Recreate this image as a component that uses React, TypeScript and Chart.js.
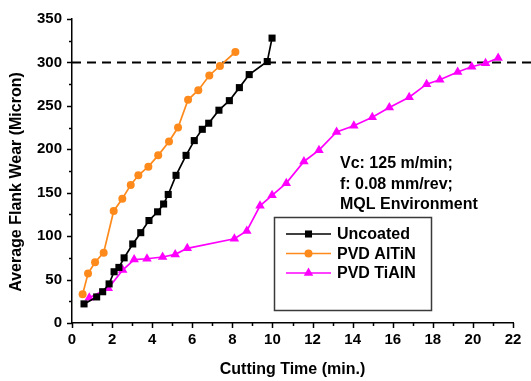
import React, { useEffect, useRef } from 'react';
import { Chart, registerables } from 'chart.js';

Chart.register(...registerables);

const FONT = '"Liberation Sans", Arial, Helvetica, sans-serif';

// ---- data ----
const seriesNames = ['Uncoated', 'PVD AlTiN', 'PVD TiAlN'];

const uncoatedTime = [0.6, 1.23, 1.53, 1.85, 2.1, 2.34, 2.6, 3.03, 3.43, 3.84, 4.27, 4.57, 4.8, 5.19, 5.69, 6.1, 6.5, 6.82, 7.33, 7.85, 8.35, 8.84, 9.74, 9.98];
const uncoatedWear = [22, 30, 36, 45, 59, 64, 75, 91, 104, 118, 128, 137, 148, 170, 193, 210, 223, 230, 245, 256, 271, 286, 301, 328];

const altinTime = [0.53, 0.8, 1.15, 1.58, 2.08, 2.51, 2.93, 3.31, 3.81, 4.3, 4.84, 5.29, 5.79, 6.3, 6.85, 7.38, 8.15];
const altinWear = [33, 57, 70, 81, 129, 143, 159, 170, 180, 193, 209, 225, 257, 268, 285, 296, 312];

const tialnTime = [0.86, 1.81, 2.53, 3.1, 3.74, 4.52, 5.15, 5.75, 8.1, 8.72, 9.38, 9.98, 10.69, 11.57, 12.32, 13.2, 14.06, 14.98, 15.83, 16.82, 17.69, 18.35, 19.24, 19.94, 20.63, 21.26];
const tialnWear = [29, 40, 61, 73, 74, 76, 79, 86, 97, 106, 135, 147, 161, 186, 199, 220, 227, 237, 248, 260, 275, 280, 289, 295, 299, 305];

const xMin = 0;
const xMax = 22;
const xStep = 2;
const yMin = 0;
const yMax = 350;
const yStep = 50;
const thresholdWear = 300;

const xTitle = 'Cutting Time (min.)';
const yTitle = 'Average Flank Wear (Micron)';
const annotationLines = ['Vc: 125 m/min;', 'f: 0.08 mm/rev;', 'MQL Environment'];

const toPoints = (xs: number[], ys: number[]) => xs.map((x, i) => ({ x, y: ys[i] }));

function drawMarker(ctx: CanvasRenderingContext2D, style: string, x: number, y: number, r: number, color: string) {
  ctx.save();
  ctx.fillStyle = color;
  ctx.beginPath();
  if (style === 'rect') {
    const s = Math.SQRT1_2 * r;
    ctx.rect(x - s, y - s, 2 * s, 2 * s);
  } else if (style === 'triangle') {
    let rad = 0;
    ctx.moveTo(x + Math.sin(rad) * r, y - Math.cos(rad) * r);
    rad += (2 * Math.PI) / 3;
    ctx.lineTo(x + Math.sin(rad) * r, y - Math.cos(rad) * r);
    rad += (2 * Math.PI) / 3;
    ctx.lineTo(x + Math.sin(rad) * r, y - Math.cos(rad) * r);
    ctx.closePath();
  } else {
    ctx.arc(x, y, r, 0, Math.PI * 2);
  }
  ctx.fill();
  ctx.restore();
}

const decorPlugin = {
  id: 'decor',
  beforeDatasetsDraw(chart: any) {
    const { ctx, chartArea, scales } = chart;
    const py = scales.y.getPixelForValue(thresholdWear);
    ctx.save();
    ctx.strokeStyle = '#000';
    ctx.lineWidth = 2;
    ctx.setLineDash([9, 6]);
    ctx.beginPath();
    ctx.moveTo(chartArea.left, py);
    ctx.lineTo(chart.width, py);
    ctx.stroke();
    ctx.restore();
  },
  afterDraw(chart: any) {
    const { ctx, chartArea, scales } = chart;
    ctx.save();
    ctx.strokeStyle = '#000';
    ctx.lineWidth = 1.5;
    for (let v = xMin; v <= xMax; v += 1) {
      const px = Math.round(scales.x.getPixelForValue(v)) + 0.5;
      const len = v % xStep === 0 ? 5 : 3;
      ctx.beginPath();
      ctx.moveTo(px, chartArea.bottom);
      ctx.lineTo(px, chartArea.bottom + len);
      ctx.stroke();
    }
    for (let v = yMin; v <= yMax; v += yStep / 2) {
      const py = Math.round(scales.y.getPixelForValue(v)) + 0.5;
      const len = v % yStep === 0 ? 5 : 3;
      ctx.beginPath();
      ctx.moveTo(chartArea.left, py);
      ctx.lineTo(chartArea.left - len, py);
      ctx.stroke();
    }
    ctx.restore();

    // y axis title, drawn slightly below the axis centre as in the reference
    ctx.save();
    ctx.font = `bold 16px ${FONT}`;
    ctx.fillStyle = '#000';
    ctx.textAlign = 'center';
    ctx.textBaseline = 'middle';
    ctx.translate(17, (chartArea.top + chartArea.bottom) / 2 + 11);
    ctx.rotate(-Math.PI / 2);
    ctx.fillText(yTitle, 0, 0);
    ctx.restore();

    // legend box
    ctx.save();
    ctx.strokeStyle = '#3a3a3a';
    ctx.lineWidth = 1.5;
    ctx.strokeRect(274.5, 217.5, 157, 93);
    ctx.font = `bold 16px ${FONT}`;
    ctx.textBaseline = 'middle';
    ctx.textAlign = 'left';
    chart.data.datasets.forEach((ds: any, i: number) => {
      const ry = 234 + i * 19.5;
      ctx.strokeStyle = ds.borderColor;
      ctx.lineWidth = ds.borderWidth;
      ctx.beginPath();
      ctx.moveTo(286, ry);
      ctx.lineTo(331, ry);
      ctx.stroke();
      drawMarker(ctx, ds.pointStyle, 308.5, ry, ds.pointRadius, ds.borderColor);
      ctx.fillStyle = '#000';
      ctx.fillText(ds.label, 337, ry + 1);
    });
    annotationLines.forEach((t, i) => {
      ctx.fillText(t, 340, 164 + i * 20.5);
    });
    ctx.restore();
  },
};

export default function App() {
  const ref = useRef<HTMLCanvasElement>(null);

  useEffect(() => {
    if (!ref.current) return;
    const tickFont = { family: FONT, size: 15, weight: 'bold' as const };
    const titleFont = { family: FONT, size: 16, weight: 'bold' as const };
    const chart = new Chart(ref.current, {
      type: 'line',
      data: {
        datasets: [
          {
            label: seriesNames[0],
            data: toPoints(uncoatedTime, uncoatedWear),
            borderColor: '#000000',
            backgroundColor: '#000000',
            borderWidth: 1.7,
            pointStyle: 'rect',
            pointRadius: 5,
            pointBorderWidth: 0,
            tension: 0,
          },
          {
            label: seriesNames[1],
            data: toPoints(altinTime, altinWear),
            borderColor: '#FF8A1C',
            backgroundColor: '#FF8A1C',
            borderWidth: 1.7,
            pointStyle: 'circle',
            pointRadius: 4,
            pointBorderWidth: 0,
            tension: 0,
          },
          {
            label: seriesNames[2],
            data: toPoints(tialnTime, tialnWear),
            borderColor: '#FF00FF',
            backgroundColor: '#FF00FF',
            borderWidth: 1.7,
            pointStyle: 'triangle',
            pointRadius: 5.5,
            pointBorderWidth: 0,
            tension: 0,
          },
        ],
      },
      options: {
        responsive: false,
        animation: false,
        devicePixelRatio: 1,
        layout: { padding: { left: 0, top: 17, right: 18, bottom: 0 } },
        plugins: {
          legend: { display: false },
          tooltip: { enabled: false },
        },
        scales: {
          x: {
            type: 'linear',
            min: xMin,
            max: xMax,
            afterFit: (s: any) => { s.height = 58; },
            ticks: { stepSize: xStep, autoSkip: false, color: '#000', font: tickFont, padding: 8, maxRotation: 0 },
            grid: { display: false, drawTicks: false },
            border: { display: true, color: '#000', width: 1.5 },
            title: { display: true, text: xTitle, color: '#000', font: titleFont, padding: { top: 0, bottom: 2 } },
          },
          y: {
            type: 'linear',
            min: yMin,
            max: yMax,
            afterFit: (s: any) => { s.width = 72; },
            ticks: { stepSize: yStep, autoSkip: false, color: '#000', font: tickFont, padding: 10 },
            grid: { display: false, drawTicks: false },
            border: { display: true, color: '#000', width: 1.5 },
            title: { display: false, text: yTitle },
          },
        },
      },
      plugins: [decorPlugin],
    } as any);
    return () => chart.destroy();
  }, []);

  return (
    <div style={{ position: 'fixed', left: 0, top: 0, width: 531, height: 381, background: '#fff' }}>
      <canvas ref={ref} width={531} height={381} style={{ display: 'block' }} />
    </div>
  );
}
